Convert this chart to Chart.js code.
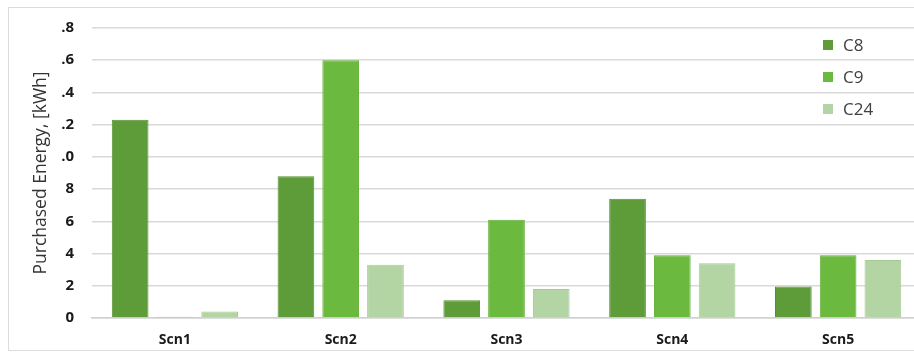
<!DOCTYPE html>
<html>
<head>
<meta charset="utf-8">
<script src="https://cdn.jsdelivr.net/npm/chart.js@4"></script>
<style>
  html, body { margin: 0; padding: 0; background: #fff; overflow: hidden; }
  #frame {
    position: absolute; left: 8px; top: 7px;
    width: 930px; height: 342px;
    border: 1px solid #dcdcdc;
  }
</style>
</head>
<body>
<div id="frame"><canvas id="barChart"></canvas></div>
<script>
// 시나리오별 구매 전력량
const scenarios = ["Scn1", "Scn2", "Scn3", "Scn4", "Scn5"];
const c8Values = [12.3, 8.8, 1.1, 7.4, 1.95];
const c9Values = [0.08, 16.0, 6.1, 3.9, 3.9];
const c24Values = [0.4, 3.3, 1.8, 3.4, 3.6];
// 원본 그림에서 잘려 보이는 눈금 글자 그대로
const yTickLabels = ["0", "2", "4", "6", "8", ".0", ".2", ".4", ".6", ".8"];

const fontFamily = "'Open Sans', 'Liberation Sans', sans-serif";

// 플롯 안쪽 오른쪽 위에 세로 범례를 그린다
const insideLegend = {
  id: "insideLegend",
  afterDraw(chart) {
    const ctx = chart.ctx;
    ctx.save();
    ctx.font = "17px " + fontFamily;
    ctx.textBaseline = "middle";
    chart.data.datasets.forEach((ds, i) => {
      const y = 37 + i * 32;
      ctx.fillStyle = ds.backgroundColor;
      ctx.fillRect(814, y - 5, 10, 10);
      ctx.fillStyle = "#404040";
      ctx.fillText(ds.label, 834, y + 1);
    });
    ctx.restore();
  },
};

const canvas = document.getElementById("barChart");
const ctx = canvas.getContext("2d");
const chart = new Chart(ctx, {
  type: "bar",
  data: {
    labels: scenarios,
    datasets: [
      {
        label: "C8",
        data: c8Values,
        backgroundColor: "#5d9c38",
        borderColor: "#54902f",
        borderWidth: 1,
      },
      {
        label: "C9",
        data: c9Values,
        backgroundColor: "#6bba3f",
        borderColor: "#62ad38",
        borderWidth: 1,
      },
      {
        label: "C24",
        data: c24Values,
        backgroundColor: "#b2d5a3",
        borderColor: "#a6cb96",
        borderWidth: 1,
      },
    ],
  },
  options: {
    responsive: true,
    maintainAspectRatio: false,
    animation: false,
    categoryPercentage: 0.81,
    barPercentage: 0.82,
    layout: { padding: { top: 20, right: 18, left: 0, bottom: 0 } },
    plugins: {
      legend: { display: false },
      tooltip: { enabled: false },
    },
    scales: {
      x: {
        grid: { display: false },
        border: { color: "#d0d0d0", width: 1.5 },
        ticks: {
          padding: 6,
          color: "#1a1a1a",
          font: { family: fontFamily, size: 14, weight: "bold" },
        },
        afterFit: (s) => { s.height = 32; },
      },
      y: {
        min: 0,
        max: 18,
        grid: {
          color: "#d9d9d9",
          lineWidth: 1.5,
          drawTicks: true,
          tickLength: 18,
          tickColor: "rgba(0,0,0,0)",
        },
        border: { display: false },
        ticks: {
          stepSize: 2,
          padding: 0,
          color: "#1a1a1a",
          font: { family: fontFamily, size: 15, weight: "bold" },
          callback: (v) => yTickLabels[v / 2],
        },
        title: {
          display: true,
          text: "Purchased Energy, [kWh]",
          color: "#333",
          padding: { top: 22, bottom: 0 },
          font: { family: fontFamily, size: 17.5 },
        },
        afterFit: (s) => { s.width = 83; },
      },
    },
  },
  plugins: [insideLegend],
});
</script>
</body>
</html>
